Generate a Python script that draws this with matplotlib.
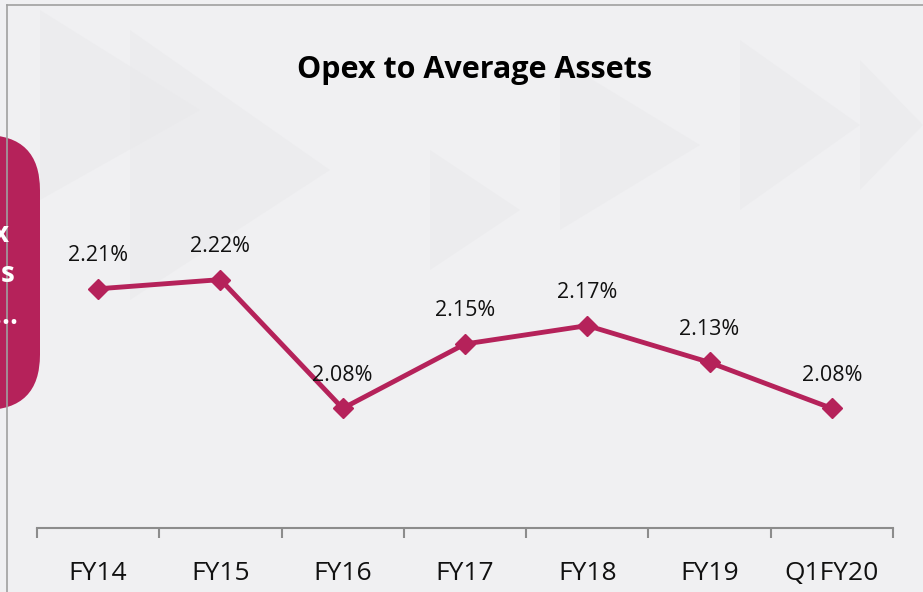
import matplotlib.pyplot as plt
from matplotlib.patches import FancyBboxPatch, Polygon
from matplotlib.lines import Line2D

categories = ['FY14', 'FY15', 'FY16', 'FY17', 'FY18', 'FY19', 'Q1FY20']
opex_ratio = [2.21, 2.22, 2.08, 2.15, 2.17, 2.13, 2.08]
labels = ['2.21%', '2.22%', '2.08%', '2.15%', '2.17%', '2.13%', '2.08%']

crimson = '#B5225A'
bg = '#F0F0F2'
W, H = 923, 592

fig = plt.figure(figsize=(W / 100, H / 100), dpi=100)
fig.patch.set_facecolor(bg)

# faint triangles in the background
tris = [
    [(40, 10), (40, 200), (200, 110)],
    [(130, 30), (130, 300), (330, 170)],
    [(430, 150), (430, 270), (520, 210)],
    [(560, 60), (560, 230), (700, 145)],
    [(740, 40), (740, 210), (860, 125)],
    [(860, 60), (860, 190), (923, 125)],
]
for t in tris:
    pts = [(x / W, 1 - y / H) for x, y in t]
    fig.patches.append(Polygon(pts, closed=True, transform=fig.transFigure,
                               facecolor='#E9E9EB', edgecolor='none', alpha=0.5, zorder=-1))

# frame lines
fig.add_artist(Line2D([7 / W, 7 / W], [0, 1 - 5 / H], transform=fig.transFigure,
                      color='#A0A0A0', lw=1.2))
fig.add_artist(Line2D([7 / W, 1], [1 - 5 / H, 1 - 5 / H], transform=fig.transFigure,
                      color='#A0A0A0', lw=1.2))

# cut-off side box on the left
box = FancyBboxPatch((-60 / W, 1 - 410 / H), 100 / W, 275 / H,
                     boxstyle='round,pad=0,rounding_size=0.06',
                     transform=fig.transFigure, facecolor=crimson, edgecolor='none',
                     mutation_aspect=W / H)
fig.patches.append(box)
for txt, xr, y in [('x', 9, 234), ('s', 14, 275), ('....', 18, 316)]:
    fig.text(xr / W, 1 - y / H, txt, ha='right', va='center', color='white',
             fontsize=20, fontweight='bold', family='Open Sans')

ax = fig.add_axes([37 / W, 1 - 528 / H, 856 / W, 322 / H])
ax.set_facecolor('none')
x = range(len(categories))
ax.plot(x, opex_ratio, color=crimson, lw=3.5, marker='D', markersize=10, zorder=3)
for i, (v, lab) in enumerate(zip(opex_ratio, labels)):
    ax.annotate(lab, (i, v), xytext=(0, 24), textcoords='offset points',
                ha='center', va='center', fontsize=15.5, family='Open Sans', color='#111111')

ax.set_xlim(-0.5, len(categories) - 0.5)
ax.set_ylim(1.95, 2.30)
for s in ['top', 'right', 'left']:
    ax.spines[s].set_visible(False)
ax.spines['bottom'].set_color('#8C8C8C')
ax.spines['bottom'].set_linewidth(1.5)
ax.set_yticks([])
ax.set_xticks(list(x))
ax.set_xticklabels(categories, fontsize=19, family='Open Sans', color='#111111')
ax.tick_params(axis='x', which='major', length=0, pad=24)
ax.set_xticks([i - 0.5 for i in range(len(categories) + 1)], minor=True)
ax.tick_params(axis='x', which='minor', length=7, width=1.5, color='#8C8C8C')

fig.text(474 / W, 1 - 70 / H, 'Opex to Average Assets', ha='center', va='center',
         fontsize=22, fontweight='bold', family='Open Sans')

fig.savefig('out.png', dpi=100, facecolor=bg)
